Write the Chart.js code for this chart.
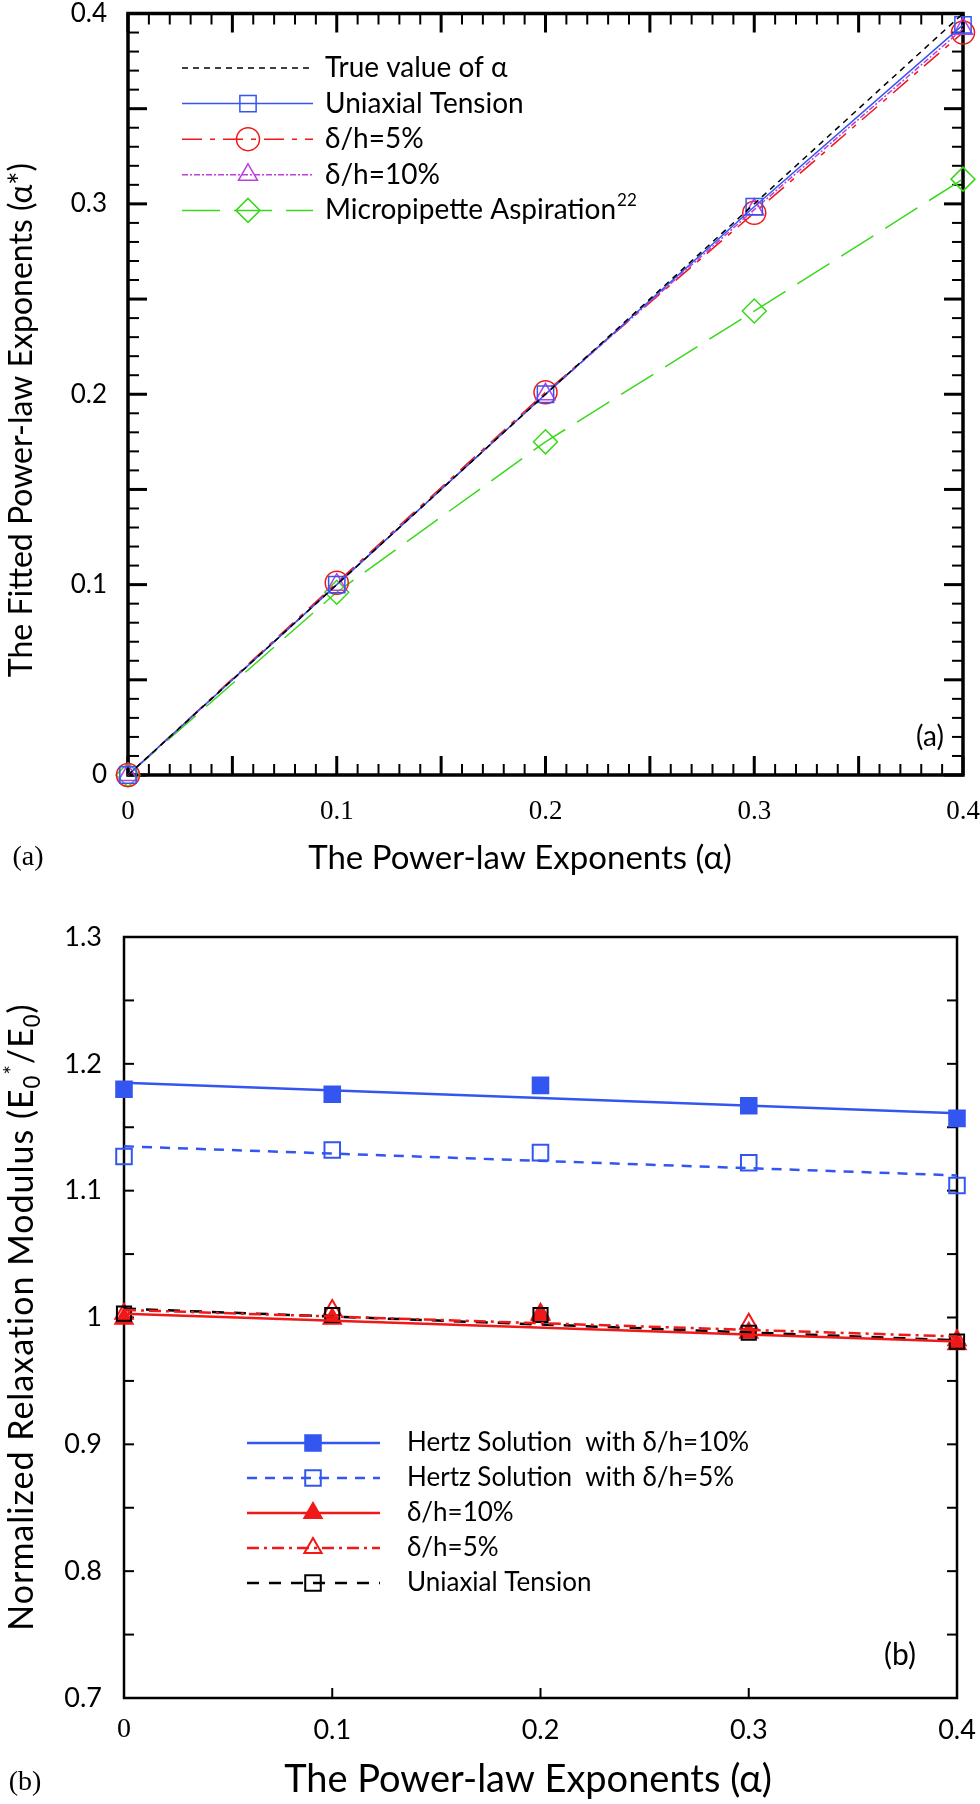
<!DOCTYPE html>
<html>
<head>
<meta charset="utf-8">
<script src="https://cdn.jsdelivr.net/npm/chart.js@4.4.1/dist/chart.umd.min.js"></script>
<style>
  body { margin: 0; background: #fff; width: 980px; height: 1804px; position: relative; overflow: hidden; }
  canvas { position: absolute; left: 0; }
</style>
</head>
<body>
<canvas id="chartA" width="980" height="900" style="top:0"></canvas>
<canvas id="chartB" width="980" height="904" style="top:900px"></canvas>
<script>
// ---- panel (a): fitted exponent vs true exponent ----
const alphaValues = [0, 0.1, 0.2, 0.3, 0.4];
const trueAlpha = [0, 0.1, 0.2, 0.3, 0.4];
const uniaxialFit = [0, 0.1, 0.2, 0.2985, 0.394];
const indent5Fit = [0, 0.101, 0.201, 0.2953, 0.390];
const indent10Fit = [0, 0.1, 0.2, 0.297, 0.392];
const micropipetteFit = [0, 0.096, 0.175, 0.2437, 0.313];
const aTickLabels = ['0', '0.1', '0.2', '0.3', '0.4'];

// ---- panel (b): normalized relaxation modulus ----
const hertz10Modulus = [1.180, 1.176, 1.183, 1.167, 1.157];
const hertz5Modulus = [1.127, 1.132, 1.130, 1.122, 1.104];
const indent10Modulus = [0.999, 0.999, 1.003, 0.988, 0.979];
const indent5Modulus = [1.003, 1.006, 1.002, 0.995, 0.982];
const uniaxialModulus = [1.003, 1.002, 1.002, 0.988, 0.981];
// fitted trend lines (values at alpha = 0 and 0.4)
const trendAlpha = [0, 0.4];
const hertz10Trend = [1.185, 1.161];
const hertz5Trend = [1.135, 1.112];
const indent10Trend = [1.003, 0.981];
const indent5Trend = [1.006, 0.985];
const uniaxialTrend = [1.007, 0.982];
const bXTickLabels = ['0', '0.1', '0.2', '0.3', '0.4'];
const bYTickLabels = ['0.7', '0.8', '0.9', '1', '1.1', '1.2', '1.3'];

const pts = (xs, ys) => xs.map((x, i) => ({ x: x, y: ys[i] }));

const BLUE = '#3456f0', RED = '#f01818', MAGENTA = '#c03ee0', GREEN = '#3ad81a';

// draw text made of pieces (normal / sub / sup), centred at 0,0 of current transform
function richText(ctx, parts, size, family) {
  let total = 0;
  parts.forEach(p => {
    ctx.font = (p.s ? size * 0.65 : size) + 'px ' + family;
    p.w = ctx.measureText(p.t).width;
    total += p.w;
  });
  let x = -total / 2;
  ctx.textAlign = 'left';
  ctx.textBaseline = 'alphabetic';
  parts.forEach(p => {
    ctx.font = (p.s ? size * 0.65 : size) + 'px ' + family;
    const dy = p.s === 'sup' ? -size * 0.38 : (p.s === 'sub' ? size * 0.2 : 0);
    ctx.fillText(p.t, x, size * 0.35 + dy);
    x += p.w;
  });
}

function line(ctx, x1, y1, x2, y2) {
  ctx.beginPath(); ctx.moveTo(x1, y1); ctx.lineTo(x2, y2); ctx.stroke();
}

function drawMarker(ctx, style, r, x, y, color, filled, bw) {
  ctx.save();
  ctx.setLineDash([]);
  ctx.strokeStyle = color;
  ctx.fillStyle = filled ? color : 'rgba(0,0,0,0)';
  Chart.helpers.drawPoint(ctx, { pointStyle: style, radius: r, rotation: 0, borderWidth: bw }, x, y);
  ctx.restore();
}

// frame + inward ticks, drawn under the data
const frameA = {
  id: 'frameA',
  beforeDatasetsDraw(chart) {
    const ctx = chart.ctx, a = chart.chartArea, xs = chart.scales.x, ys = chart.scales.y;
    ctx.save();
    ctx.strokeStyle = '#000';
    ctx.lineCap = 'butt';
    for (let i = 0; i <= 40; i++) {
      const major = i % 5 === 0;
      const len = major ? 19 : 11;
      ctx.lineWidth = major ? 3 : 2;
      const px = xs.getPixelForValue(i / 100);
      const py = ys.getPixelForValue(i / 100);
      line(ctx, px, a.bottom, px, a.bottom - len);
      line(ctx, px, a.top, px, a.top + len);
      line(ctx, a.left, py, a.left + len, py);
      line(ctx, a.right, py, a.right - len, py);
    }
    ctx.lineWidth = 3.5;
    ctx.strokeRect(a.left, a.top, a.right - a.left, a.bottom - a.top);
    ctx.restore();
  },
  afterDraw(chart) {
    const ctx = chart.ctx, xs = chart.scales.x, ys = chart.scales.y;
    ctx.save();
    ctx.fillStyle = '#000';
    // tick labels
    ctx.font = '27px "Liberation Serif"';
    ctx.textAlign = 'center'; ctx.textBaseline = 'middle';
    aTickLabels.forEach((t, i) => ctx.fillText(t, xs.getPixelForValue(alphaValues[i]), 812));
    ctx.font = '26px Lato';
    ctx.textAlign = 'right';
    aTickLabels.forEach((t, i) => ctx.fillText(t, 107, ys.getPixelForValue(trueAlpha[i])));
    // axis titles
    ctx.font = '33px Lato';
    ctx.textAlign = 'center';
    ctx.fillText('The Power-law Exponents (\u03B1)', 520, 858);
    ctx.save();
    ctx.translate(22, 420); ctx.rotate(-Math.PI / 2);
    ctx.font = '32px Lato';
    ctx.fillText('The Fitted Power-law Exponents (\u03B1*)', 0, 0);
    ctx.restore();
    ctx.font = '28px Lato';
    ctx.fillText('(a)', 930, 737);
    ctx.font = '28px "Liberation Serif"';
    ctx.fillText('(a)', 28, 858);

    // legend
    const rows = [
      { label: 'True value of \u03B1', color: '#000', dash: [6, 5], w: 1.5 },
      { label: 'Uniaxial Tension', color: BLUE, dash: [], w: 1.5, m: 'rect', r: 11.5 },
      { label: '\u03B4/h=5%', color: RED, dash: [20, 8, 5, 8], w: 1.5, m: 'circle', r: 11.5 },
      { label: '\u03B4/h=10%', color: MAGENTA, dash: [6, 2, 2, 2], w: 1.5, m: 'triangle', r: 11 },
      { label: 'Micropipette Aspiration', sup: '22', color: GREEN, dash: [38, 14], w: 1.5, m: 'rectRot', r: 12 }
    ];
    rows.forEach((row, i) => {
      const y = 68 + i * 35.6;
      ctx.save();
      ctx.strokeStyle = row.color; ctx.lineWidth = row.w; ctx.setLineDash(row.dash);
      line(ctx, 182, y, 313, y);
      ctx.restore();
      if (row.m) drawMarker(ctx, row.m, row.r, 248, y, row.color, false, 1.5);
      ctx.fillStyle = '#000';
      ctx.font = '28px Lato';
      ctx.textAlign = 'left'; ctx.textBaseline = 'middle';
      ctx.fillText(row.label, 325, y);
      if (row.sup) {
        const w = ctx.measureText(row.label).width;
        ctx.font = '17px Lato';
        ctx.fillText(row.sup, 325 + w + 1, y - 10);
      }
    });
    ctx.restore();
  }
};

const frameB = {
  id: 'frameB',
  beforeDatasetsDraw(chart) {
    const ctx = chart.ctx, a = chart.chartArea, xs = chart.scales.x, ys = chart.scales.y;
    ctx.save();
    ctx.strokeStyle = '#000';
    ctx.lineWidth = 2;
    for (let i = 1; i < 12; i++) {
      const py = ys.getPixelForValue(0.7 + i * 0.05);
      line(ctx, a.left, py, a.left + 10, py);
      line(ctx, a.right, py, a.right - 10, py);
    }
    for (let i = 1; i < 4; i++) {
      const px = xs.getPixelForValue(i / 10);
      line(ctx, px, a.bottom, px, a.bottom - 10);
    }
    ctx.lineWidth = 2.5;
    ctx.strokeRect(a.left, a.top, a.right - a.left, a.bottom - a.top);
    ctx.restore();
  },
  afterDraw(chart) {
    const ctx = chart.ctx, xs = chart.scales.x, ys = chart.scales.y;
    ctx.save();
    ctx.fillStyle = '#000';
    ctx.textBaseline = 'middle';
    ctx.textAlign = 'center';
    bXTickLabels.forEach((t, i) => {
      ctx.font = i === 0 ? '28px "Liberation Serif"' : '27px Lato';
      ctx.fillText(t, xs.getPixelForValue(alphaValues[i]), 830);
    });
    ctx.font = '27px Lato';
    ctx.textAlign = 'right';
    bYTickLabels.forEach(t => ctx.fillText(t, 102, ys.getPixelForValue(parseFloat(t))));
    ctx.textAlign = 'center';
    ctx.font = '38px Lato';
    ctx.fillText('The Power-law Exponents (\u03B1)', 528, 880);
    ctx.save();
    ctx.translate(21, 417); ctx.rotate(-Math.PI / 2);
    ctx.letterSpacing = '1px';
    richText(ctx, [
      { t: 'Normalized Relaxation Modulus (E' }, { t: '0', s: 'sub' }, { t: '*', s: 'sup' },
      { t: '/E' }, { t: '0', s: 'sub' }, { t: ')' }
    ], 34, 'Lato');
    ctx.restore();
    ctx.textAlign = 'center'; ctx.textBaseline = 'middle';
    ctx.font = '30px Lato';
    ctx.fillText('(b)', 900, 755);
    ctx.font = '28px "Liberation Serif"';
    ctx.fillText('(b)', 25, 883);

    const rows = [
      { label: 'Hertz Solution  with \u03B4/h=10%', color: BLUE, dash: [], m: 'rect', r: 11, fill: true },
      { label: 'Hertz Solution  with \u03B4/h=5%', color: BLUE, dash: [10, 8], m: 'rect', r: 11, fill: false },
      { label: '\u03B4/h=10%', color: RED, dash: [], m: 'triangle', r: 10, fill: true },
      { label: '\u03B4/h=5%', color: RED, dash: [12, 5, 3, 5], m: 'triangle', r: 10, fill: false },
      { label: 'Uniaxial Tension', color: '#000', dash: [12, 10], m: 'rect', r: 11, fill: false }
    ];
    rows.forEach((row, i) => {
      const y = 543 + i * 35;
      ctx.save();
      ctx.strokeStyle = row.color; ctx.lineWidth = 2.5; ctx.setLineDash(row.dash);
      line(ctx, 247, y, 380, y);
      ctx.restore();
      drawMarker(ctx, row.m, row.r, 313, y, row.color, row.fill, 2);
      ctx.fillStyle = '#000';
      ctx.font = '26px Lato';
      ctx.textAlign = 'left'; ctx.textBaseline = 'middle';
      ctx.fillText(row.label, 407, y);
    });
    ctx.restore();
  }
};

const lineSet = (data, color, dash, style, r) => ({
  data: data, showLine: true, borderColor: color, borderWidth: 1.5, borderDash: dash,
  pointStyle: style || 'circle', pointRadius: r || 0, pointBorderColor: color,
  pointBackgroundColor: 'rgba(0,0,0,0)', pointBorderWidth: 1.5, clip: false
});

new Chart(document.getElementById('chartA'), {
  type: 'scatter',
  data: {
    datasets: [
      lineSet(pts(alphaValues, trueAlpha), '#000', [6, 5]),
      lineSet(pts(alphaValues, uniaxialFit), BLUE, [], 'rect', 11.5),
      lineSet(pts(alphaValues, indent10Fit), MAGENTA, [6, 2, 2, 2], 'triangle', 11),
      lineSet(pts(alphaValues, indent5Fit), RED, [20, 8, 5, 8], 'circle', 11.5),
      lineSet(pts(alphaValues, micropipetteFit), GREEN, [38, 14], 'rectRot', 12)
    ]
  },
  options: {
    responsive: false, animation: false, devicePixelRatio: 1,
    layout: { padding: { left: 128, top: 13, right: 17, bottom: 125 } },
    plugins: { legend: { display: false }, tooltip: { enabled: false } },
    scales: {
      x: { type: 'linear', min: 0, max: 0.4, display: false },
      y: { type: 'linear', min: 0, max: 0.4, display: false }
    }
  },
  plugins: [frameA]
});

const markSet = (data, color, style, r, filled) => ({
  data: data, showLine: false, pointStyle: style, pointRadius: r,
  pointBorderColor: color, pointBackgroundColor: filled ? color : 'rgba(0,0,0,0)',
  pointBorderWidth: 2, clip: false
});
const trendSet = (data, color, dash) => ({
  data: data, showLine: true, borderColor: color, borderWidth: 2.5, borderDash: dash,
  pointRadius: 0, clip: false
});

new Chart(document.getElementById('chartB'), {
  type: 'scatter',
  data: {
    datasets: [
      trendSet(pts(trendAlpha, hertz10Trend), BLUE, []),
      trendSet(pts(trendAlpha, hertz5Trend), BLUE, [10, 8]),
      trendSet(pts(trendAlpha, indent10Trend), RED, []),
      trendSet(pts(trendAlpha, indent5Trend), RED, [12, 5, 3, 5]),
      trendSet(pts(trendAlpha, uniaxialTrend), '#000', [12, 10]),
      markSet(pts(alphaValues, hertz10Modulus), BLUE, 'rect', 11, true),
      markSet(pts(alphaValues, hertz5Modulus), BLUE, 'rect', 11, false),
      markSet(pts(alphaValues, uniaxialModulus), '#000', 'rect', 10, false),
      markSet(pts(alphaValues, indent10Modulus), RED, 'triangle', 10, true),
      markSet(pts(alphaValues, indent5Modulus), RED, 'triangle', 10, false)
    ]
  },
  options: {
    responsive: false, animation: false, devicePixelRatio: 1,
    layout: { padding: { left: 124, top: 37, right: 23, bottom: 106 } },
    plugins: { legend: { display: false }, tooltip: { enabled: false } },
    scales: {
      x: { type: 'linear', min: 0, max: 0.4, display: false },
      y: { type: 'linear', min: 0.7, max: 1.3, display: false }
    }
  },
  plugins: [frameB]
});
</script>
</body>
</html>
